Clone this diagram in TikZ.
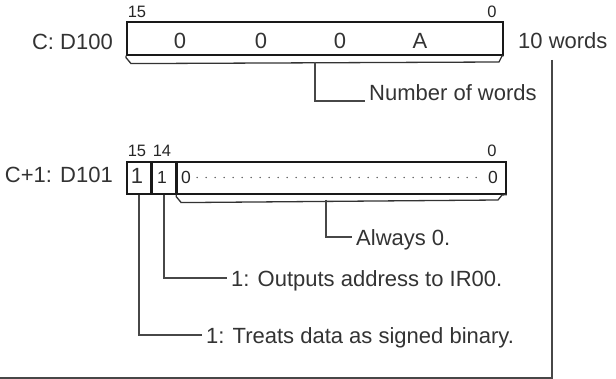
\documentclass[tikz,border=0pt]{standalone}
\usepackage{fontspec}
\setmainfont{Liberation Sans}

\begin{document}
\begin{tikzpicture}[x=1pt,y=-1pt,
  frame/.style={draw=black!90,line width=1.6pt,inner sep=0pt,anchor=north west},
  shelf/.style={draw=black!80,line width=1.3pt},
  lead/.style={draw=black!72,line width=1.4pt},
  label/.style={font=\fontsize{22}{26}\selectfont,text=black!80,inner sep=0pt},
  note/.style={label,anchor=base west,inner xsep=4pt,text height=18pt,text depth=0pt},
  bitno/.style={font=\fontsize{16.5}{19}\selectfont,text=black!85,inner sep=0pt},
  digit/.style={font=\fontsize{22}{26}\selectfont,text=black!80,inner sep=0pt},
  small/.style={font=\fontsize{17.5}{20}\selectfont,text=black!85,inner sep=0pt},
  dots/.style={draw=black!70,line width=1.6pt,line cap=round,dash pattern=on 0pt off 9pt},
]
\useasboundingbox (0,0) rectangle (616,379);

% C: D100
\node[label,anchor=base east] (cname) at (113,50) {C: D100};
\node[frame,minimum width=376pt,minimum height=33pt] (d100) at (126,21) {};
\draw[shelf] (d100.south west) -- ++(0,2) -- ++(5,6) -- (499,62) -- (502,56) -- (d100.south east);
\node[bitno] (c15) at (137,12) {15};
\node[bitno] (c0) at (492,12) {0};
\node[digit] (v3) at (180,41) {0};
\node[digit] (v2) at (261,41) {0};
\node[digit] (v1) at (340,41) {0};
\node[digit] (v0) at (420,41) {A};
\node[label,anchor=base west] (count) at (518,49) {10 words};

\coordinate (w0) at (315,62);
\node[note] (nwords) at (365,101) {Number of words};
\draw[lead] (w0) |- (nwords.base west);

% span of the 10 words
\coordinate (spantop) at (552,60);
\coordinate (spanend) at (0,378);
\draw[lead] (spantop) |- (spanend);

% C+1: D101
\node[label,anchor=base east] (cname1) at (113,183) {C+1: D101};
\node[frame,minimum width=24pt,minimum height=32pt] (b15) at (126,161) {};
\node[frame,minimum width=23pt,minimum height=32pt] (b14) at (b15.north east) {};
\node[frame,minimum width=329pt,minimum height=32pt] (b0) at (b14.north east) {};
\draw[shelf] (b0.south west) -- ++(0,2) -- ++(5,6) -- (498,200) -- (502,195) -- (b0.south east);
\node[bitno] (n15) at (137,151) {15};
\node[bitno] (n14) at (162,151) {14};
\node[bitno] (n0) at (492,151) {0};
\node[digit] (s15) at (137,175.5) {1};
\node[small] (s14) at (162,177.5) {1};
\node[small] (z13) at (186,177.5) {0};
\node[small] (z0) at (493,177.5) {0};
\draw[dots] (z13.east) ++(6,0) -- ([xshift=-6pt]z0.west);

\coordinate (a0) at (326,200);
\node[note] (always) at (352,246) {Always 0.};
\draw[lead] (a0) |- (always.west);

\node[note] (outaddr) at (227,287) {1: Outputs address to IR00.};
\draw[lead] (b14.south) |- (outaddr.west);

\node[note] (signed) at (202,344) {1: Treats data as signed binary.};
\draw[lead] (b15.south) |- (signed.west);
\end{tikzpicture}
\end{document}
